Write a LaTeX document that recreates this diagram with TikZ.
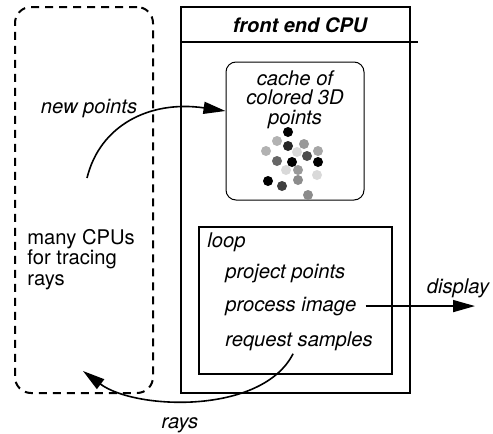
\documentclass[tikz,border=0pt]{standalone}
\usepackage{fontspec}
\setmainfont{TeX Gyre Heros}
\usetikzlibrary{arrows.meta,positioning}
\tikzset{
    %Define standard arrow tip
    >={Triangle[length=11pt,width=6pt]},
    %Define style for boxes
    workers/.style={
           rectangle,
           rounded corners=8pt,
           draw=black, line width=1pt,
           dash pattern=on 4pt off 3pt,
           minimum width=69pt,
           minimum height=193pt},
    frontend/.style={
           rectangle,
           draw=black, line width=1pt,
           minimum width=114.5pt,
           minimum height=193pt},
    cachebox/.style={
           rectangle,
           rounded corners=5pt,
           draw=black, line width=.5pt,
           minimum width=69pt,
           minimum height=69pt},
    loopbox/.style={
           rectangle,
           draw=black, line width=.6pt,
           minimum width=96.5pt,
           minimum height=73.5pt},
    %Define style for texts
    txt/.style={
           inner sep=0pt,
           font=\fontsize{10.1}{10.25}\selectfont},
    itxt/.style={
           inner sep=0pt,
           font=\fontsize{10.1}{9.75}\selectfont\itshape},
    btxt/.style={
           inner sep=0pt,
           font=\fontsize{10}{10}\selectfont\bfseries\itshape},
    % Define arrow style
    pil/.style={
           ->,
           line width=.8pt}
}
\begin{document}
\begin{tikzpicture}[x=0.5pt,y=-0.5pt]
\useasboundingbox (0,0) rectangle (493,434);
 %boxes
\node[workers](cpus) at (84,200) {};
\node[frontend](front) at (295.5,200) {};
\node[cachebox](cache) at (295,131) {};
\node[loopbox](loop) at (295.5,300.5) {};
\draw[line width=.6pt] ([yshift=-18pt]front.north west) -- ++(119pt,0);

 %texts (base of a multi-line node is its last line)
\node[btxt, anchor=base](title) at (300,32) {front end CPU};
\node[itxt, align=center, anchor=base](cachetxt) at (295,124) {cache of\\colored 3D\\points};
\node[txt, align=left, anchor=base west](cpustxt) at (27,285) {many CPUs\\for tracing\\rays};
\node[itxt, anchor=base west](looptxt) at (207,247) {loop};
\node[itxt, anchor=base west](proj) at (225,278) {project points};
\node[itxt, anchor=base west](proc) at (225,311) {process image};
\node[itxt, anchor=base west](req) at (225,346) {request samples};
\node[itxt, anchor=base](newlbl) at (89,113) {new points};
\node[itxt, anchor=base](displbl) at (458,293) {display};
\node[itxt, anchor=base](rayslbl) at (180,428) {rays};

 %points
\foreach \x/\y/\g in {288/132/100, 277/141/30, 288/146/85, 304/144/40, 266/151/30,
    297/152/15, 307/156/70, 318/151/35, 277/161/60, 292/162/100, 318/162/100,
    286/170/15, 298/170/40, 317/175/15, 268/181/100, 282/186/75, 298/180/45, 308/195/45}
    \fill[black!\g] (\x,\y) circle[radius=2.5pt];

 %arrows
\coordinate (src) at (87,178);
\coordinate (raysend) at (83,371);
\coordinate (disp) at (475,308);
\draw[pil] (src) .. controls (100,125) and (150,100) .. ([yshift=10pt]cache.west);
\draw[pil] ([xshift=-3pt,yshift=-1.5pt]req.south) .. controls (262,415) and (135,410) .. (raysend);
\draw[pil] (proc.east) ++(4.5pt,0) -- (proc.east -| disp);
\end{tikzpicture}
\end{document}
